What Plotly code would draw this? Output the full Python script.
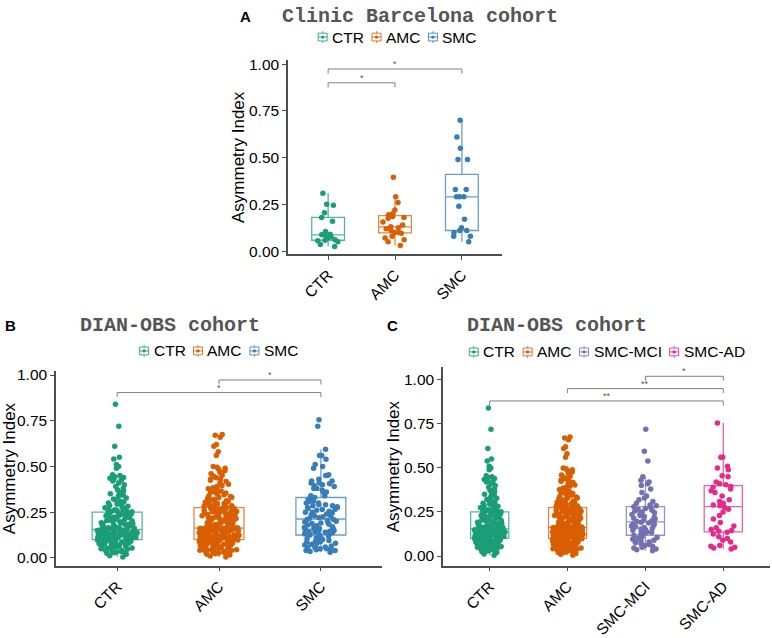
import plotly.graph_objects as go

W, H = 772, 638

# ---------------- data ----------------
A_groups = ["CTR", "AMC", "SMC"]
A_CTR = [0.31, 0.25, 0.245, 0.205, 0.18, 0.16, 0.105, 0.09, 0.088, 0.085,
         0.075, 0.07, 0.06, 0.058, 0.055, 0.05, 0.035, 0.025]
A_AMC = [0.395, 0.29, 0.26, 0.22, 0.2, 0.195, 0.185, 0.18, 0.175, 0.155, 0.14, 0.13,
         0.125, 0.12, 0.11, 0.1, 0.1, 0.095, 0.08, 0.07, 0.06, 0.05, 0.03]
A_SMC = [0.70, 0.61, 0.55, 0.49, 0.49, 0.33, 0.33, 0.29, 0.29, 0.29, 0.24, 0.17,
         0.125, 0.11, 0.11, 0.10, 0.08, 0.08, 0.05]

B_groups = ["CTR", "AMC", "SMC"]
C_groups = ["CTR", "AMC", "SMC-MCI", "SMC-AD"]

D_CTR = [0.005, 0.012, 0.02, 0.025, 0.028, 0.03, 0.032, 0.035, 0.038, 0.04,
         0.042, 0.045, 0.047, 0.05, 0.052, 0.054, 0.056, 0.058, 0.06, 0.061,
         0.063, 0.065, 0.066, 0.068, 0.07, 0.071, 0.073, 0.075, 0.076, 0.078,
         0.08, 0.081, 0.083, 0.084, 0.086, 0.087, 0.089, 0.09, 0.091, 0.092,
         0.094, 0.095, 0.096, 0.098, 0.099,
         0.101, 0.102, 0.104, 0.105, 0.106, 0.108, 0.109, 0.11, 0.111, 0.112,
         0.114, 0.115, 0.116, 0.118, 0.119, 0.12, 0.121, 0.122, 0.124, 0.125,
         0.126, 0.128, 0.129, 0.13, 0.131, 0.133, 0.134, 0.135, 0.137, 0.138,
         0.139, 0.14, 0.141, 0.143, 0.144, 0.145, 0.146, 0.147, 0.148, 0.149,
         0.15, 0.151, 0.152, 0.153, 0.154,
         0.156, 0.158, 0.16, 0.162, 0.164, 0.166, 0.168, 0.17, 0.172, 0.175,
         0.177, 0.18, 0.182, 0.184, 0.186, 0.188, 0.19, 0.192, 0.195, 0.197,
         0.2, 0.202, 0.204, 0.206, 0.208, 0.21, 0.212, 0.215, 0.217, 0.22,
         0.222, 0.224, 0.226, 0.228, 0.23, 0.232, 0.234, 0.236, 0.238, 0.24,
         0.242, 0.244, 0.246, 0.248, 0.249,
         0.252, 0.255, 0.258, 0.26, 0.263, 0.266, 0.27, 0.274, 0.278, 0.282,
         0.286, 0.29, 0.295, 0.3, 0.305, 0.31, 0.316, 0.322, 0.328, 0.335,
         0.342, 0.35, 0.358, 0.365, 0.373, 0.38, 0.39, 0.4, 0.41, 0.42,
         0.43, 0.435, 0.44, 0.445, 0.45, 0.455, 0.425,
         0.49, 0.50, 0.51, 0.54, 0.55, 0.61, 0.72, 0.84]

D_AMC = [0.005, 0.01, 0.015, 0.02, 0.022, 0.025, 0.027, 0.03, 0.032, 0.034,
         0.036, 0.038, 0.04, 0.041, 0.043, 0.045, 0.046, 0.048, 0.05, 0.051,
         0.053, 0.055, 0.056, 0.058, 0.06, 0.061, 0.063, 0.064, 0.066, 0.068,
         0.069, 0.071, 0.072, 0.074, 0.075, 0.077, 0.078, 0.08, 0.081, 0.083,
         0.084, 0.085, 0.087, 0.088, 0.089, 0.09, 0.091, 0.092, 0.093, 0.094,
         0.095, 0.096, 0.097, 0.098, 0.099,
         0.101, 0.102, 0.103, 0.105, 0.106, 0.107, 0.108, 0.11, 0.111, 0.112,
         0.113, 0.115, 0.116, 0.117, 0.118, 0.12, 0.121, 0.122, 0.123, 0.125,
         0.126, 0.127, 0.128, 0.13, 0.131, 0.132, 0.133, 0.135, 0.136, 0.137,
         0.138, 0.14, 0.141, 0.142, 0.143, 0.145, 0.146, 0.147, 0.148, 0.15,
         0.151, 0.152, 0.153, 0.154, 0.155, 0.156, 0.157, 0.158, 0.159, 0.16,
         0.16, 0.161, 0.161, 0.162, 0.162,
         0.163, 0.165, 0.167, 0.169, 0.171, 0.173, 0.175, 0.177, 0.179, 0.181,
         0.183, 0.185, 0.187, 0.19, 0.192, 0.194, 0.196, 0.198, 0.2, 0.202,
         0.205, 0.207, 0.209, 0.211, 0.213, 0.215, 0.218, 0.22, 0.222, 0.224,
         0.226, 0.228, 0.23, 0.233, 0.235, 0.237, 0.24, 0.242, 0.244, 0.246,
         0.248, 0.25, 0.252, 0.254, 0.256, 0.258, 0.26, 0.262, 0.264, 0.266,
         0.267, 0.268, 0.27, 0.271, 0.273,
         0.276, 0.279, 0.282, 0.285, 0.288, 0.291, 0.294, 0.297, 0.3, 0.304,
         0.308, 0.312, 0.316, 0.32, 0.325, 0.33, 0.335, 0.34, 0.345, 0.35,
         0.355, 0.36, 0.366, 0.372, 0.378, 0.384, 0.39, 0.396, 0.403, 0.41,
         0.417, 0.424, 0.431, 0.438, 0.445, 0.452, 0.46, 0.468, 0.476, 0.485,
         0.49, 0.495, 0.5, 0.29, 0.31, 0.33, 0.36, 0.43,
         0.56, 0.58, 0.61, 0.62, 0.66, 0.67, 0.675]

D_MCI = [0.03, 0.035, 0.04, 0.045, 0.05, 0.055, 0.06, 0.065, 0.07, 0.075,
         0.08, 0.085, 0.09, 0.095, 0.1, 0.105, 0.11, 0.118,
         0.125, 0.13, 0.134, 0.138, 0.142, 0.146, 0.15, 0.154, 0.158, 0.162,
         0.166, 0.17, 0.175, 0.18, 0.184, 0.188, 0.192,
         0.196, 0.2, 0.205, 0.21, 0.215, 0.22, 0.225, 0.23, 0.235, 0.24,
         0.245, 0.25, 0.255, 0.26, 0.265, 0.27, 0.275,
         0.28, 0.285, 0.29, 0.3, 0.31, 0.32, 0.33, 0.34, 0.36, 0.38,
         0.4, 0.41, 0.42, 0.43, 0.45, 0.539, 0.594, 0.72]

D_AD = [0.04, 0.045, 0.05, 0.055, 0.06, 0.08, 0.09, 0.1, 0.11, 0.125, 0.135,
        0.14, 0.145, 0.15, 0.16, 0.17, 0.19, 0.21, 0.23, 0.25, 0.265, 0.275,
        0.285, 0.29, 0.3, 0.31, 0.32, 0.34, 0.36, 0.37, 0.38, 0.39, 0.395,
        0.405, 0.41, 0.42, 0.45, 0.455, 0.49, 0.5, 0.51, 0.56, 0.56, 0.755]

D_SMC = D_MCI + D_AD

colors = {"CTR": "#1B9E77", "AMC": "#D95F02", "SMC": "#377EB8",
          "SMC-MCI": "#7570B3", "SMC-AD": "#E7298A"}

A_comparisons = [("CTR", "AMC", 0.90, "*"), ("CTR", "SMC", 0.974, "*")]
B_comparisons = [("CTR", "SMC", 0.904, "*"), ("AMC", "SMC", 0.973, "*")]
C_comparisons = [("CTR", "SMC-AD", 0.88, "**"), ("AMC", "SMC-AD", 0.95, "**"),
                 ("SMC-MCI", "SMC-AD", 1.02, "*")]

# ---------------- layout helpers ----------------
def fx(px):
    return px / W

def fy(py):
    return 1 - py / H

def rgba(hexc, a):
    h = hexc.lstrip("#")
    return "rgba(%d,%d,%d,%.2f)" % (int(h[0:2], 16), int(h[2:4], 16), int(h[4:6], 16), a)

# Arial / Liberation Sans glyph advance widths (em) used to lay out the legend keys
CW = {"C": .722, "T": .611, "R": .722, "A": .667, "M": .833, "S": .667, "-": .333,
      "I": .278, "D": .722}

def text_w(s, size):
    return sum(CW.get(c, .6) for c in s) * size

FONT = "Liberation Sans, Arial, sans-serif"
MONO = "Liberation Mono, Courier New, monospace"
AXC = "#4d4d4d"
TICK = 15.5
LEGF = 15.5

panels = [
    dict(sfx="", groups=A_groups, data={"CTR": A_CTR, "AMC": A_AMC, "SMC": A_SMC},
         comps=A_comparisons, xdom=(288, 502), ydom=(57, 256.5), yr=(-0.017, 1.02),
         leg=(397.5, 33), letter=(245, 12, "A"),
         title=(420, 12, "Clinic Barcelona cohort")),
    dict(sfx="2", groups=B_groups, data={"CTR": D_CTR, "AMC": D_AMC, "SMC": D_SMC},
         comps=B_comparisons, xdom=(56, 382), ydom=(377, 577), yr=(-0.043, 1.02),
         leg=(219, 356), letter=(10, 330, "B"),
         title=(170, 330, "DIAN-OBS cohort")),
    dict(sfx="3", groups=C_groups,
         data={"CTR": D_CTR, "AMC": D_AMC, "SMC-MCI": D_MCI, "SMC-AD": D_AD},
         comps=C_comparisons, xdom=(443, 770), ydom=(373, 577), yr=(-0.055, 1.07),
         leg=(607, 357), letter=(392, 330, "C"),
         title=(557, 330, "DIAN-OBS cohort")),
]

fig = go.Figure()
annotations = []
shapes = []
layout = {}

KEY_W, KEY_GAP, ITEM_GAP = 9, 5, 8

for p in panels:
    xa = "x" + p["sfx"]
    ya = "y" + p["sfx"]
    for g in p["groups"]:
        vals = p["data"][g]
        fig.add_trace(go.Box(
            y=vals, x=[g] * len(vals), name=g, xaxis=xa, yaxis=ya,
            boxpoints="all", jitter=0.8, pointpos=0, whiskerwidth=0,
            quartilemethod="inclusive",
            fillcolor="rgba(255,255,255,0)",
            line=dict(color=rgba(colors[g], 0.75), width=1.3),
            marker=dict(color=colors[g], size=5.5, opacity=1),
            showlegend=False, hoverinfo="y",
        ))
    for g1, g2, yv, lab in p["comps"]:
        fig.add_trace(go.Scatter(
            x=[g1, g1, g2, g2], y=[yv - 0.025, yv, yv, yv - 0.025],
            mode="lines", line=dict(color="#808080", width=1),
            xaxis=xa, yaxis=ya, showlegend=False, hoverinfo="skip",
        ))
        i1 = p["groups"].index(g1)
        i2 = p["groups"].index(g2)
        annotations.append(dict(
            x=(i1 + i2) / 2, y=yv, xref=xa, yref=ya, text=lab, showarrow=False,
            yanchor="bottom", yshift=-2, font=dict(size=9, color="#555555", family=FONT)))

    # ---- legend keys (ggplot-style boxplot keys) ----
    widths = [KEY_W + KEY_GAP + text_w(g, LEGF) for g in p["groups"]]
    total = sum(widths) + ITEM_GAP * (len(widths) - 1)
    cx, cy = p["leg"]
    x = cx - total / 2
    for g, w in zip(p["groups"], widths):
        col = rgba(colors[g], 0.85)
        shapes.append(dict(type="line", xref="paper", yref="paper",
                           x0=fx(x + KEY_W / 2), x1=fx(x + KEY_W / 2), y0=fy(cy - 6), y1=fy(cy + 6),
                           line=dict(color=col, width=1)))
        shapes.append(dict(type="rect", xref="paper", yref="paper",
                           x0=fx(x), x1=fx(x + KEY_W), y0=fy(cy - 4), y1=fy(cy + 4),
                           fillcolor="white", line=dict(color=col, width=1)))
        shapes.append(dict(type="line", xref="paper", yref="paper",
                           x0=fx(x), x1=fx(x + KEY_W), y0=fy(cy), y1=fy(cy),
                           line=dict(color=col, width=1)))
        shapes.append(dict(type="circle", xref="paper", yref="paper",
                           x0=fx(x + KEY_W / 2 - 1.7), x1=fx(x + KEY_W / 2 + 1.7),
                           y0=fy(cy - 1.7), y1=fy(cy + 1.7),
                           fillcolor=colors[g], line=dict(width=0)))
        annotations.append(dict(x=fx(x + KEY_W + KEY_GAP), y=fy(cy), xref="paper", yref="paper",
                                text=g, showarrow=False, xanchor="left", yanchor="middle",
                                xshift=-2, font=dict(size=LEGF, color="black", family=FONT)))
        x += w + ITEM_GAP

    layout["xaxis" + p["sfx"]] = dict(
        domain=[fx(p["xdom"][0]), fx(p["xdom"][1])], anchor=ya,
        type="category", categoryorder="array", categoryarray=p["groups"],
        range=[-0.6, len(p["groups"]) - 0.4],
        showline=True, linecolor=AXC, linewidth=1.5, mirror=False,
        ticks="outside", ticklen=4, tickcolor=AXC, tickwidth=1.2,
        tickangle=-45, tickfont=dict(size=TICK, color="black", family=FONT),
        showgrid=False, zeroline=False, fixedrange=True)
    layout["yaxis" + p["sfx"]] = dict(
        domain=[fy(p["ydom"][1]), fy(p["ydom"][0])], anchor=xa,
        range=list(p["yr"]), tickvals=[0, 0.25, 0.5, 0.75, 1.0], tickformat=".2f",
        showline=True, linecolor=AXC, linewidth=1.5,
        ticks="outside", ticklen=4, tickcolor=AXC, tickwidth=1.2,
        tickfont=dict(size=TICK, color="black", family=FONT),
        title=dict(text="Asymmetry Index", font=dict(size=17, color="black", family=FONT), standoff=0),
        showgrid=False, zeroline=False, fixedrange=True)
    lx, ly, lt = p["letter"]
    annotations.append(dict(x=fx(lx), y=fy(ly), xref="paper", yref="paper", text="<b>%s</b>" % lt,
                            showarrow=False, xanchor="center", yanchor="middle",
                            font=dict(size=15, color="black", family=FONT)))
    tx, ty, tt = p["title"]
    annotations.append(dict(x=fx(tx), y=fy(ty), xref="paper", yref="paper", text="<b>%s</b>" % tt,
                            showarrow=False, xanchor="center", yanchor="middle",
                            font=dict(size=20, color="#555555", family=MONO)))

fig.update_layout(
    width=W, height=H, margin=dict(l=0, r=0, t=0, b=0),
    paper_bgcolor="white", plot_bgcolor="white", showlegend=False,
    boxmode="overlay", annotations=annotations, shapes=shapes, **layout)

fig.write_html("out.html")
